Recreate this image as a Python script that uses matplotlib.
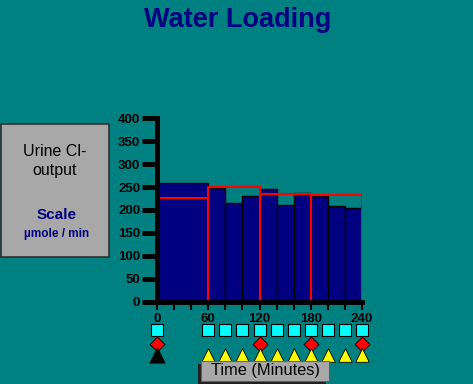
import matplotlib.pyplot as plt
from matplotlib.patches import Rectangle
import matplotlib.transforms as mtransforms

# 20-minute collection periods (first one spans 0-60)
bar_starts = [0, 60, 80, 100, 120, 140, 160, 180, 200, 220]
bar_widths = [60, 20, 20, 20, 20, 20, 20, 20, 20, 20]
bar_values = [258, 247, 215, 230, 246, 210, 236, 231, 208, 204]

# 60-minute averages (red outlines)
hour_starts = [0, 60, 120, 180]
hour_values = [226, 251, 234, 232]

# sampling markers under the axis
square_times = [0, 60, 80, 100, 120, 140, 160, 180, 200, 220, 240]
diamond_times = [0, 120, 180, 240]
yellow_tri_times = [60, 80, 100, 120, 140, 160, 180, 200, 220, 240]
black_tri_times = [0]

y_ticks = [0, 50, 100, 150, 200, 250, 300, 350, 400]
x_ticks = list(range(0, 241, 20))
x_labels = ["0", "", "", "60", "", "", "120", "", "", "180", "", "", "240"]

TEAL = "#008080"
NAVY = "#000080"

plt.rcParams["font.family"] = ["Liberation Sans", "DejaVu Sans"]

fig = plt.figure(figsize=(4.73, 3.84), dpi=100, facecolor=TEAL)
ax = fig.add_axes([157 / 473, 1 - 301.7 / 384, 205 / 473, 183.4 / 384])
ax.set_facecolor(TEAL)

ax.bar(bar_starts, bar_values, width=bar_widths, align="edge",
       color=NAVY, edgecolor="black", linewidth=1, zorder=2)
ax.bar(hour_starts, hour_values, width=60, align="edge",
       fill=False, edgecolor="red", linewidth=1.5, zorder=3)

ax.set_xlim(0, 240)
ax.set_ylim(0, 400)
for s in ["top", "right"]:
    ax.spines[s].set_visible(False)
ax.spines["left"].set_linewidth(3.5)
ax.spines["bottom"].set_linewidth(3.5)
ax.spines["left"].set_zorder(4)
ax.spines["bottom"].set_zorder(4)

ax.set_yticks(y_ticks)
ax.set_yticklabels([str(v) for v in y_ticks], fontweight="bold", fontsize=9.5)
ax.tick_params(axis="y", length=11, width=3.5, pad=1)
ax.set_xticks(x_ticks)
ax.set_xticklabels(x_labels, fontweight="bold", fontsize=9.5)
ax.tick_params(axis="x", length=6, width=1.5, pad=2)

# marker rows below the axis
trans = mtransforms.blended_transform_factory(ax.transData, ax.transAxes)
ax.scatter(square_times, [-0.155] * len(square_times), marker="s", s=80,
           color="#00FFFF", edgecolor="black", linewidth=0.8,
           transform=trans, clip_on=False, zorder=5)
ax.scatter(diamond_times, [-0.23] * len(diamond_times), marker="D", s=58,
           color="red", edgecolor="black", linewidth=0.6,
           transform=trans, clip_on=False, zorder=5)
ax.scatter(yellow_tri_times, [-0.29] * len(yellow_tri_times), marker="^", s=95,
           color="yellow", edgecolor="black", linewidth=0.6,
           transform=trans, clip_on=False, zorder=5)
ax.scatter(black_tri_times, [-0.29] * len(black_tri_times), marker="^", s=120,
           color="black", edgecolor="black", linewidth=0.6,
           transform=trans, clip_on=False, zorder=5)

# title
fig.text(238 / 473, 1 - 20 / 384, "Water Loading", color=NAVY,
         fontsize=19.5, fontweight="bold", ha="center", va="center")

# left label box
fig.patches.append(Rectangle((1 / 473, 1 - 257 / 384), 108 / 473, 133 / 384,
                             transform=fig.transFigure, facecolor="#A8A8A8",
                             edgecolor="#303030", linewidth=1.2))
fig.text(55 / 473, 1 - 152 / 384, "Urine Cl-", fontsize=11.5, ha="center", va="center")
fig.text(55 / 473, 1 - 171 / 384, "output", fontsize=11.5, ha="center", va="center")
fig.text(57 / 473, 1 - 215 / 384, "Scale", fontsize=11, color=NAVY,
         fontweight="bold", ha="center", va="center")
fig.text(57 / 473, 1 - 234 / 384, "\u00b5mole / min", fontsize=8.5, color=NAVY,
         fontweight="bold", ha="center", va="center")

# time label box with shadow
fig.patches.append(Rectangle((198 / 473, 1 - 384 / 384), 128 / 473, 20 / 384,
                             transform=fig.transFigure, facecolor="#202020",
                             edgecolor="none"))
fig.patches.append(Rectangle((201 / 473, 1 - 381 / 384), 128 / 473, 20 / 384,
                             transform=fig.transFigure, facecolor="#A8A8A8",
                             edgecolor="#606060", linewidth=0.8))
fig.text(265 / 473, 1 - 371 / 384, "Time (Minutes)", fontsize=11.8,
         ha="center", va="center")

fig.savefig("out.png", dpi=100, facecolor=TEAL)
